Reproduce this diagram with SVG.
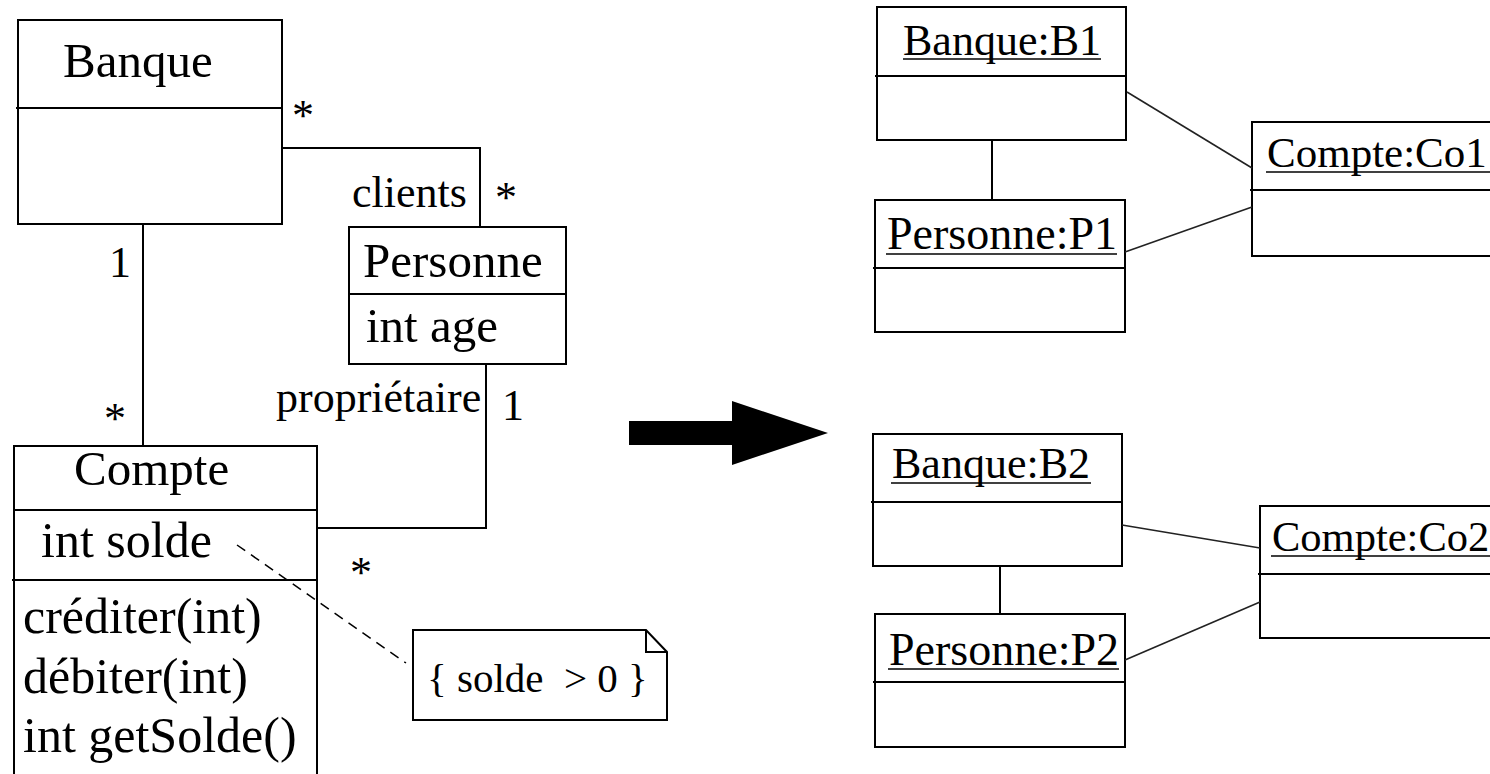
<svg xmlns="http://www.w3.org/2000/svg" width="1490" height="774" viewBox="0 0 1490 774">
  <style>
    .box { fill: #fff; stroke: #000; stroke-width: 2; }
    .sep { stroke: #000; stroke-width: 2; }
    .ul { stroke: #000; stroke-width: 1.6; }
    .wire { fill: none; stroke: #000; stroke-width: 2; }
    .link { fill: none; stroke: #222; stroke-width: 1.6; }
    .dash { fill: none; stroke: #000; stroke-width: 1.5; stroke-dasharray: 10 7; }
  </style>
  <rect width="1490" height="774" fill="#fff"/>

  <g style="font-family:'Liberation Serif'" fill="#000">

  <!-- class diagram -->
  <g id="banque" font-size="49">
    <rect class="box" x="18" y="20" width="264" height="204"/>
    <line class="sep" x1="16" y1="108" x2="282" y2="108"/>
    <text x="63" y="77">Banque</text>
  </g>

  <g id="personne" font-size="49">
    <rect class="box" x="349" y="227" width="217" height="137"/>
    <line class="sep" x1="349" y1="294" x2="566" y2="294"/>
    <text x="363" y="277">Personne</text>
    <text x="366" y="342">int age</text>
  </g>

  <g id="compte" font-size="49">
    <rect class="box" x="14" y="446" width="303" height="360"/>
    <line class="sep" x1="14" y1="510" x2="317" y2="510"/>
    <line class="sep" x1="12" y1="580" x2="317" y2="580"/>
    <text x="74" y="485">Compte</text>
    <text x="41" y="557" font-size="50">int solde</text>
    <text x="23" y="633" font-size="50">créditer(int)</text>
    <text x="23" y="693" font-size="50">débiter(int)</text>
    <text x="23" y="752" font-size="50">int getSolde()</text>
  </g>

  <g id="note" font-size="41">
    <path class="box" d="M413,630 H646 L667,652 V720 H413 Z"/>
    <path class="wire" d="M646,630 V652 H667"/>
    <text x="427" y="692" xml:space="preserve">{ solde  &gt; 0 }</text>
  </g>

  <!-- transformation arrow -->
  <g id="arrow">
    <polygon points="629,421 732,421 732,401 828,433 732,465 732,445 629,445" fill="#000"/>
  </g>

  <!-- object diagrams -->
  <g id="banque-b1" font-size="44">
    <rect class="box" x="877" y="7" width="249" height="133"/>
    <line class="sep" x1="875" y1="76" x2="1126" y2="76"/>
    <text x="903" y="55">Banque:B1</text>
    <line class="ul" x1="903" y1="59" x2="1101" y2="59"/>
  </g>

  <g id="personne-p1" font-size="46">
    <rect class="box" x="875" y="200" width="250" height="132"/>
    <line class="sep" x1="873" y1="268" x2="1125" y2="268"/>
    <text x="887" y="249">Personne:P1</text>
    <line class="ul" x1="886" y1="254" x2="1117" y2="254"/>
  </g>

  <g id="compte-co1" font-size="43">
    <rect class="box" x="1252" y="122" width="260" height="134"/>
    <line class="sep" x1="1250" y1="190" x2="1500" y2="190"/>
    <text x="1267" y="167">Compte:Co1</text>
    <line class="ul" x1="1266" y1="172" x2="1490" y2="172"/>
  </g>

  <g id="banque-b2" font-size="44">
    <rect class="box" x="873" y="434" width="249" height="132"/>
    <line class="sep" x1="871" y1="502" x2="1122" y2="502"/>
    <text x="892" y="478">Banque:B2</text>
    <line class="ul" x1="891" y1="483" x2="1091" y2="483"/>
  </g>

  <g id="personne-p2" font-size="46">
    <rect class="box" x="875" y="614" width="250" height="133"/>
    <line class="sep" x1="873" y1="682" x2="1125" y2="682"/>
    <text x="889" y="665">Personne:P2</text>
    <line class="ul" x1="888" y1="669" x2="1119" y2="669"/>
  </g>

  <g id="compte-co2" font-size="42.5">
    <rect class="box" x="1260" y="506" width="260" height="132"/>
    <line class="sep" x1="1258" y1="574" x2="1500" y2="574"/>
    <text x="1272" y="551">Compte:Co2</text>
    <line class="ul" x1="1271" y1="556" x2="1490" y2="556"/>
  </g>

  <!-- connectors with their end labels -->
  <g id="connectors" font-size="44">
    <!-- Banque - Personne (clients) -->
    <polyline class="wire" points="282,148 480,148 480,227"/>
    <text x="292" y="130">*</text>
    <text x="352" y="207">clients</text>
    <text x="495" y="212">*</text>

    <!-- Banque - Compte -->
    <line class="wire" x1="143" y1="224" x2="143" y2="446"/>
    <text x="109" y="277">1</text>
    <text x="104" y="433">*</text>

    <!-- Personne - Compte (propriétaire) -->
    <polyline class="wire" points="486,364 486,528 317,528"/>
    <text x="276" y="412">propriétaire</text>
    <text x="502" y="420">1</text>
    <text x="350" y="587">*</text>

    <!-- note anchor -->
    <line class="dash" x1="237" y1="545" x2="406" y2="663"/>

    <!-- links between objects -->
    <line class="wire" x1="992" y1="140" x2="992" y2="200"/>
    <line class="link" x1="1127" y1="92" x2="1252" y2="168"/>
    <line class="link" x1="1125" y1="252" x2="1252" y2="207"/>
    <line class="wire" x1="1000" y1="566" x2="1000" y2="614"/>
    <line class="link" x1="1122" y1="525" x2="1260" y2="548"/>
    <line class="link" x1="1125" y1="660" x2="1260" y2="602"/>
  </g>

  </g>
</svg>
